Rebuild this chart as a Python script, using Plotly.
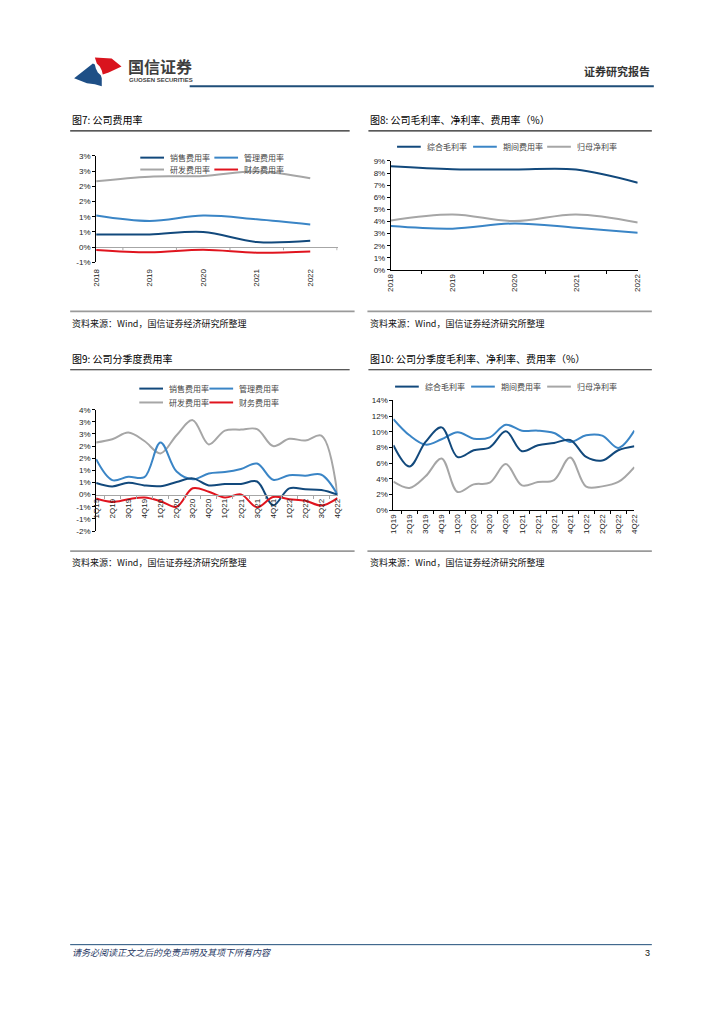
import plotly.graph_objects as go

# ---------------- data ----------------
years = ["2018", "2019", "2020", "2021", "2022"]
c7_sales = [0.42, 0.42, 0.50, 0.17, 0.21]
c7_admin = [1.04, 0.86, 1.04, 0.92, 0.75]
c7_rd = [2.17, 2.32, 2.34, 2.49, 2.27]
c7_fin = [-0.09, -0.17, -0.08, -0.18, -0.14]
c7_tickvals = [-0.5, 0, 0.5, 1.0, 1.5, 2.0, 2.5, 3.0]
c7_ticktext = ["-1%", "0%", "1%", "1%", "2%", "2%", "3%", "3%"]

c8_gross = [8.56, 8.32, 8.29, 8.29, 7.20]
c8_exp = [3.62, 3.41, 3.84, 3.49, 3.08]
c8_net = [4.09, 4.58, 4.03, 4.58, 3.92]

quarters = ["1Q19", "2Q19", "3Q19", "4Q19", "1Q20", "2Q20", "3Q20", "4Q20",
            "1Q21", "2Q21", "3Q21", "4Q21", "1Q22", "2Q22", "3Q22", "4Q22"]
c9_sales = [0.48, 0.34, 0.49, 0.38, 0.35, 0.52, 0.67, 0.38, 0.44, 0.44, 0.54, -0.44, 0.26, 0.22, 0.19, 0.0]
c9_admin = [1.46, 0.60, 0.74, 0.72, 2.15, 0.95, 0.63, 0.87, 0.93, 1.06, 1.28, 0.61, 0.80, 0.78, 0.82, 0.0]
c9_rd = [2.15, 2.28, 2.56, 2.21, 1.70, 2.45, 3.07, 2.07, 2.64, 2.68, 2.70, 2.00, 2.30, 2.23, 2.43, 0.0]
c9_fin = [-0.16, -0.30, -0.19, -0.12, -0.27, -0.50, 0.26, 0.12, -0.12, 0.01, -0.52, -0.10, -0.19, -0.25, -0.45, -0.14]
c9_tickvals = [-1.5, -1.0, -0.5, 0, 0.5, 1.0, 1.5, 2.0, 2.5, 3.0, 3.5]
c9_ticktext = ["-2%", "-1%", "-1%", "0%", "1%", "1%", "2%", "2%", "3%", "3%", "4%"]

c10_gross = [8.29, 5.58, 8.71, 10.57, 6.77, 7.65, 8.03, 10.06, 7.53, 8.29, 8.58, 8.96, 6.81, 6.34, 7.65, 8.16]
c10_exp = [11.63, 9.56, 8.37, 9.05, 9.94, 9.13, 9.30, 10.90, 10.15, 10.15, 9.85, 8.71, 9.56, 9.51, 7.95, 10.15]
c10_net = [3.64, 2.84, 4.32, 6.60, 2.33, 3.30, 3.51, 5.88, 3.17, 3.60, 3.85, 6.72, 3.00, 3.04, 3.60, 5.50]

names_fee = ["销售费用率", "管理费用率", "研发费用率", "财务费用率"]
names_margin = ["综合毛利率", "期间费用率", "归母净利率"]

# ---------------- style ----------------
W, H = 724, 1024
DARK = "#12497C"
LIGHT = "#3A85C6"
GRAY = "#A6A6A6"
RED = "#E0141E"
NAVY = "#1F4E79"
NUMFONT = "Liberation Sans, Arial, Noto Sans CJK SC"
CJK = "Noto Sans CJK SC, Noto Sans, sans-serif"


def X(px):
    return px / W


def Y(py):
    return 1 - py / H


fig = go.Figure()


def add_line(x, y, color, xa, ya, name):
    fig.add_trace(go.Scatter(x=x, y=y, mode="lines", name=name,
                             line=dict(color=color, width=2, shape="spline", smoothing=1),
                             xaxis=xa, yaxis=ya, showlegend=False, hoverinfo="skip"))


# chart 7
add_line(years, c7_rd, GRAY, "x", "y", names_fee[2])
add_line(years, c7_admin, LIGHT, "x", "y", names_fee[1])
add_line(years, c7_sales, DARK, "x", "y", names_fee[0])
add_line(years, c7_fin, RED, "x", "y", names_fee[3])
# chart 8
add_line(years, c8_net, GRAY, "x2", "y2", names_margin[2])
add_line(years, c8_exp, LIGHT, "x2", "y2", names_margin[1])
add_line(years, c8_gross, DARK, "x2", "y2", names_margin[0])
# chart 9
add_line(quarters, c9_rd, GRAY, "x3", "y3", names_fee[2])
add_line(quarters, c9_admin, LIGHT, "x3", "y3", names_fee[1])
add_line(quarters, c9_sales, DARK, "x3", "y3", names_fee[0])
add_line(quarters, c9_fin, RED, "x3", "y3", names_fee[3])
# chart 10
add_line(quarters, c10_net, GRAY, "x4", "y4", names_margin[2])
add_line(quarters, c10_exp, LIGHT, "x4", "y4", names_margin[1])
add_line(quarters, c10_gross, DARK, "x4", "y4", names_margin[0])

tickfont = dict(family=NUMFONT, size=8, color="#222")

yax_common = dict(showline=True, linecolor="#000", linewidth=1, ticks="outside",
                  ticklen=3, tickcolor="#000", showgrid=False,
                  tickfont=tickfont, fixedrange=True)

fig.update_layout(
    width=W, height=H, margin=dict(l=0, r=0, t=0, b=0),
    paper_bgcolor="white", plot_bgcolor="rgba(0,0,0,0)",
    showlegend=False,
    # ---- chart 7 ----
    xaxis=dict(domain=[X(93.3), X(337.7)], anchor="y", type="category",
               showline=False, ticks="", tickangle=-90, showgrid=False, zeroline=False,
               tickfont=tickfont, ticklabelstandoff=4, fixedrange=True),
    yaxis=dict(domain=[Y(260.7), Y(153.3)], anchor="x", range=[-0.5, 3.0],
               tickvals=c7_tickvals, ticktext=c7_ticktext, zeroline=True,
               zerolinecolor=GRAY, zerolinewidth=1, **yax_common),
    # ---- chart 8 ----
    xaxis2=dict(domain=[X(391.7), X(641.7)], anchor="y2", type="category",
                showline=True, linecolor="#000", linewidth=1, ticks="outside",
                tickson="boundaries", ticklen=3, tickcolor="#000", tickangle=-90,
                showgrid=False, zeroline=False, tickfont=tickfont, fixedrange=True),
    yaxis2=dict(domain=[Y(268.3), Y(158.3)], anchor="x2", range=[0, 9], dtick=1,
                ticksuffix="%", zeroline=False, **yax_common),
    # ---- chart 9 ----
    xaxis3=dict(domain=[X(93.3), X(337.7)], anchor="free", position=Y(495.0),
                type="category", showline=True, linecolor=GRAY, linewidth=1,
                ticks="outside", tickson="boundaries", ticklen=3, tickcolor=GRAY,
                tickangle=-90, showgrid=False, zeroline=False, tickfont=tickfont,
                fixedrange=True),
    yaxis3=dict(domain=[Y(531.7), Y(409.3)], anchor="x3", range=[-1.5, 3.5],
                tickvals=c9_tickvals, ticktext=c9_ticktext, zeroline=False, **yax_common),
    # ---- chart 10 ----
    xaxis4=dict(domain=[X(394.3), X(638.3)], anchor="y4", type="category",
                showline=True, linecolor="#000", linewidth=1, ticks="outside",
                tickson="boundaries", ticklen=3, tickcolor="#000", tickangle=-90,
                showgrid=False, zeroline=False, tickfont=tickfont, fixedrange=True),
    yaxis4=dict(domain=[Y(510.7), Y(400.0)], anchor="x4", range=[0, 14], dtick=2,
                ticksuffix="%", zeroline=False, **yax_common),
)

shapes = []
annotations = []

# tick marks on the zero line of chart 7 (category boundaries)
for i in range(len(years)):
    shapes.append(dict(type="line", xref="x", yref="y", x0=i + 0.5, x1=i + 0.5,
                       y0=0, y1=-0.1, line=dict(color=GRAY, width=1)))


def hline(x0, x1, y, color, width):
    shapes.append(dict(type="line", xref="paper", yref="paper", x0=X(x0), x1=X(x1),
                       y0=Y(y), y1=Y(y), line=dict(color=color, width=width)))


def text(x, y, s, size=9, color="#000", anchor="left", family=CJK, style="normal", weight="normal"):
    annotations.append(dict(x=X(x), y=Y(y), xref="paper", yref="paper", text=s,
                            showarrow=False, xanchor=anchor, yanchor="middle",
                            font=dict(family=family, size=size, color=color, style=style,
                                      weight=weight)))


def legend_item(x, y, color, label):
    hline(x, x + 24, y, color, 2)
    text(x + 28, y, label, size=8, color="#444")


def P(*pts):
    s = "M " + " L ".join("{:.5f} {:.5f}".format(X(a), Y(b)) for a, b in pts) + " Z"
    return s


# ---- header logo ----
shapes.append(dict(type="path", xref="paper", yref="paper",
                   path=P((71, 75), (90, 60), (92, 61), (93, 65), (95, 69), (98, 72),
                          (99, 75), (99, 83), (92, 81), (84, 80)),
                   fillcolor="#1E4F86", line=dict(width=0)))
shapes.append(dict(type="path", xref="paper", yref="paper",
                   path=P((92, 54), (109, 55), (119, 63), (106, 69), (100, 71),
                          (99, 67), (97, 63), (94, 60), (93, 57)),
                   fillcolor="#D9141E", line=dict(width=0)))
text(124, 63, "国信证券", size=16, color="#3F3F3F", weight="bold")
text(125, 77, "GUOSEN SECURITIES", size=6, color="#3F3F3F", family=NUMFONT, weight="bold")
text(656, 68, "证券研究报告", size=11, color="#333", anchor="right", weight="bold")
hline(188, 658, 83, NAVY, 2)

# ---- titles ----
text(67, 117, "图7: 公司费用率", size=10)
text(369, 117, "图8: 公司毛利率、净利率、费用率（%）", size=10)
text(67, 358, "图9: 公司分季度费用率", size=10)
text(369, 358, "图10: 公司分季度毛利率、净利率、费用率（%）", size=10)
hline(67, 350, 128, "#222", 1.2)
hline(369, 656, 128, "#222", 1.2)
hline(67, 350, 369, "#222", 1.2)
hline(369, 656, 369, "#222", 1.2)

# ---- source lines ----
for yy, ty in [(310, 322), (552, 563)]:
    hline(67, 355, yy, "#9A9A9A", 1.8)
    hline(368, 656, yy, "#9A9A9A", 1.8)
    text(67, ty, "资料来源：Wind，国信证券经济研究所整理", size=9, color="#111")
    text(369, ty, "资料来源：Wind，国信证券经济研究所整理", size=9, color="#111")

# ---- legends ----
legend_item(138, 155, DARK, names_fee[0])
legend_item(213, 155, LIGHT, names_fee[1])
legend_item(138, 167, GRAY, names_fee[2])
legend_item(213, 167, RED, names_fee[3])

legend_item(398, 144, DARK, names_margin[0])
legend_item(475, 144, LIGHT, names_margin[1])
legend_item(550, 144, GRAY, names_margin[2])

legend_item(137, 388, DARK, names_fee[0])
legend_item(208, 388, LIGHT, names_fee[1])
legend_item(137, 402, GRAY, names_fee[2])
legend_item(208, 402, RED, names_fee[3])

legend_item(396, 386, DARK, names_margin[0])
legend_item(473, 386, LIGHT, names_margin[1])
legend_item(550, 386, GRAY, names_margin[2])

# ---- footer ----
hline(67, 656, 949, NAVY, 1)
text(67, 957, "请务必阅读正文之后的免责声明及其项下所有内容", size=9, color="#1F3864", style="italic")
text(656, 957, "3", size=9, color="#111", anchor="right", family=NUMFONT)

fig.update_layout(shapes=shapes, annotations=annotations)
fig.write_html("out.html", config={"displayModeBar": False, "staticPlot": True},
               post_script="document.body.style.margin='0';")
